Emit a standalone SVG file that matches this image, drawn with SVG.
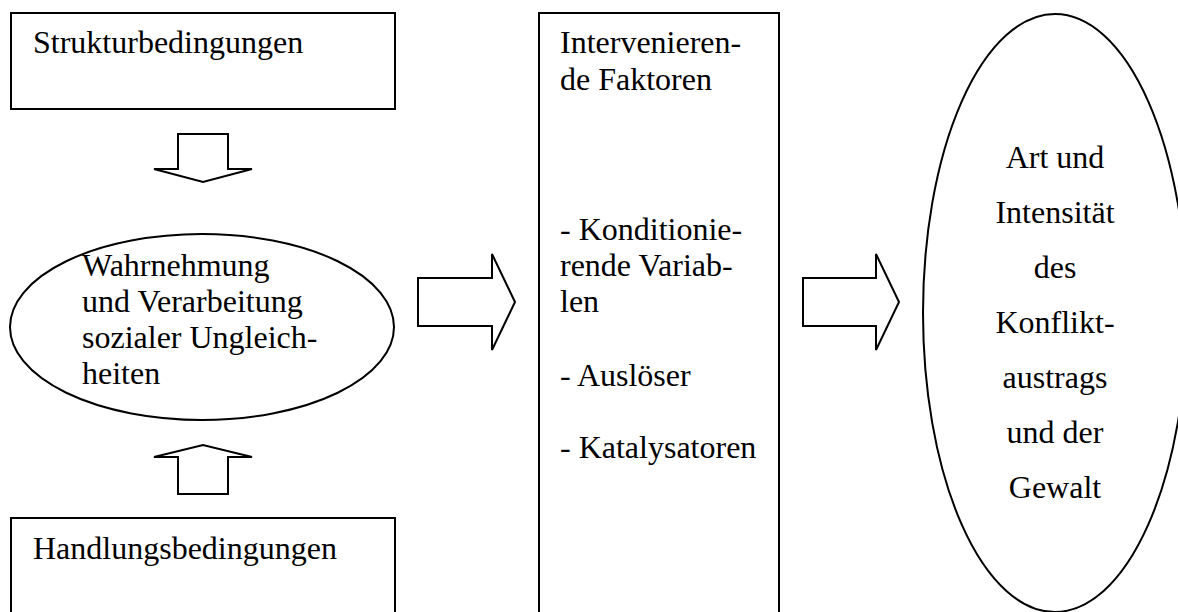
<svg xmlns="http://www.w3.org/2000/svg" width="1178" height="612" viewBox="0 0 1178 612">
<style>
.shape{fill:#fff;stroke:#000;stroke-width:2}
.arrow{fill:#fff;stroke:#000;stroke-width:2;stroke-linejoin:miter}
text{font-family:"Liberation Serif","Times New Roman",serif;font-size:32px;fill:#000}
.c{text-anchor:middle}
</style>
<rect width="1178" height="612" fill="#fff"/>
<g id="connectors">
<polygon class="arrow" points="178,134 228,134 228,169 252,169 203,182 154,169 178,169"/>
<polygon class="arrow" points="178,494 228,494 228,457 252,457 203,445 154,457 178,457"/>
<polygon class="arrow" points="418,278 492,278 492,254 515,302 492,350 492,326 418,326"/>
<polygon class="arrow" points="803,278 876,278 876,254 899,302 876,350 876,326 803,326"/>
</g>
<g id="strukturbedingungen">
<rect class="shape" x="11" y="13" width="384" height="96"/>
<text x="33" y="53">Strukturbedingungen</text>
</g>
<g id="wahrnehmung">
<ellipse class="shape" cx="202" cy="327" rx="192" ry="93"/>
<text x="82" y="276">Wahrnehmung</text>
<text x="82" y="312">und Verarbeitung</text>
<text x="82" y="348">sozialer Ungleich-</text>
<text x="82" y="384">heiten</text>
</g>
<g id="handlungsbedingungen">
<rect class="shape" x="11" y="518" width="384" height="110"/>
<text x="33" y="559">Handlungsbedingungen</text>
</g>
<g id="faktoren">
<rect class="shape" x="539" y="13" width="240" height="615"/>
<text x="560" y="53">Intervenieren-</text>
<text x="560" y="90">de Faktoren</text>
<text x="560" y="240">- Konditionie-</text>
<text x="560" y="276">rende Variab-</text>
<text x="560" y="312">len</text>
<text x="560" y="386">- Auslöser</text>
<text x="560" y="458">- Katalysatoren</text>
</g>
<g id="gewalt">
<ellipse class="shape" cx="1055" cy="313" rx="132" ry="299"/>
<text class="c" x="1055" y="168">Art und</text>
<text class="c" x="1055" y="223">Intensität</text>
<text class="c" x="1055" y="278">des</text>
<text class="c" x="1055" y="333">Konflikt-</text>
<text class="c" x="1055" y="388">austrags</text>
<text class="c" x="1055" y="443">und der</text>
<text class="c" x="1055" y="498">Gewalt</text>
</g>
</svg>
